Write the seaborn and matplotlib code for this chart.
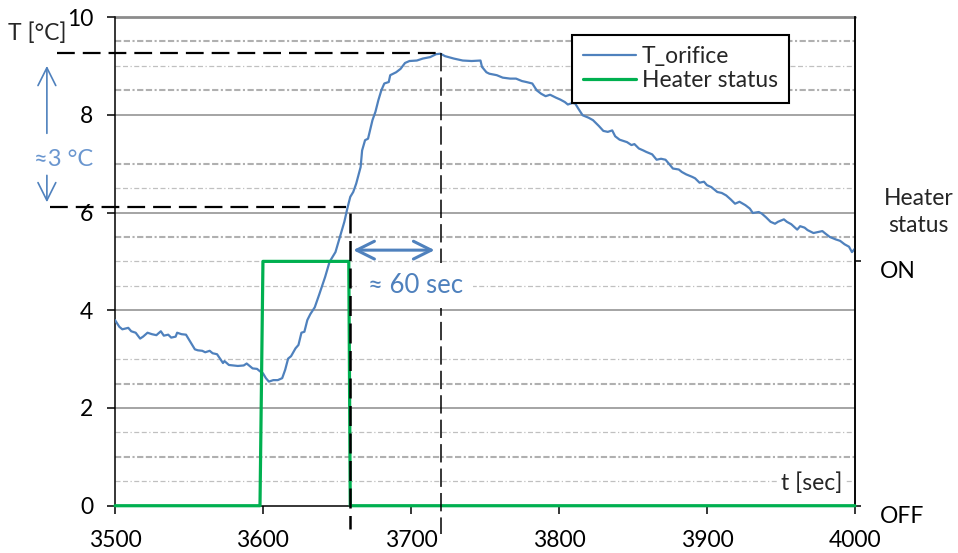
import matplotlib
matplotlib.use("Agg")
import matplotlib.pyplot as plt
import seaborn as sns
import pandas as pd

# T_orifice
time_s = [3500, 3503, 3505, 3509, 3511, 3514, 3517, 3519, 3522, 3525, 3528, 3531, 3533, 3536,
          3538, 3541, 3542, 3545, 3548, 3551, 3554, 3556, 3559, 3561, 3564, 3566, 3569, 3571,
          3573, 3574, 3577, 3580, 3583, 3587, 3589, 3591, 3593, 3596, 3598, 3600, 3602, 3604,
          3607, 3610, 3613, 3615, 3617, 3619, 3622, 3624, 3626, 3628, 3630, 3632, 3635, 3638,
          3642, 3645, 3649, 3652, 3655, 3657, 3659, 3661, 3663, 3666, 3667, 3669, 3671, 3674,
          3676, 3678, 3680, 3682, 3685, 3686, 3688, 3690, 3693, 3696, 3699, 3704, 3708, 3713,
          3717, 3720, 3723, 3729, 3735, 3741, 3747, 3748, 3751, 3753, 3758, 3762, 3767, 3771,
          3775, 3778, 3782, 3785, 3788, 3791, 3794, 3798, 3801, 3804, 3806, 3809, 3811, 3813,
          3816, 3820, 3823, 3827, 3830, 3833, 3836, 3838, 3841, 3846, 3849, 3851, 3854, 3857,
          3859, 3863, 3866, 3869, 3872, 3874, 3877, 3881, 3883, 3886, 3890, 3892, 3895, 3898,
          3900, 3903, 3907, 3910, 3913, 3916, 3919, 3922, 3926, 3929, 3931, 3935, 3937, 3940,
          3943, 3946, 3948, 3952, 3954, 3957, 3961, 3963, 3966, 3968, 3972, 3975, 3978, 3980,
          3983, 3987, 3990, 3993, 3996, 3998, 4000]
t_orifice = [3.80, 3.66, 3.61, 3.64, 3.57, 3.54, 3.42, 3.46, 3.54, 3.51, 3.49, 3.57, 3.48, 3.50,
             3.44, 3.46, 3.54, 3.51, 3.50, 3.35, 3.20, 3.18, 3.17, 3.14, 3.17, 3.12, 3.10, 3.01,
             2.92, 2.96, 2.88, 2.87, 2.86, 2.87, 2.91, 2.86, 2.81, 2.80, 2.75, 2.71, 2.61, 2.54,
             2.57, 2.57, 2.61, 2.78, 3.01, 3.06, 3.22, 3.29, 3.54, 3.56, 3.80, 3.92, 4.06, 4.32,
             4.68, 4.99, 5.19, 5.50, 5.81, 6.08, 6.32, 6.42, 6.59, 6.93, 7.27, 7.48, 7.51, 7.89,
             8.06, 8.30, 8.50, 8.64, 8.67, 8.81, 8.84, 8.87, 8.94, 9.06, 9.10, 9.11, 9.15, 9.18,
             9.24, 9.25, 9.20, 9.15, 9.11, 9.10, 9.11, 8.98, 8.87, 8.84, 8.81, 8.76, 8.74, 8.74,
             8.69, 8.67, 8.64, 8.50, 8.43, 8.38, 8.41, 8.35, 8.31, 8.26, 8.21, 8.24, 8.23, 8.13,
             7.99, 7.94, 7.89, 7.77, 7.67, 7.65, 7.68, 7.56, 7.49, 7.44, 7.38, 7.40, 7.31, 7.27,
             7.24, 7.19, 7.08, 7.10, 7.08, 7.01, 6.90, 6.88, 6.83, 6.78, 6.73, 6.70, 6.61, 6.63,
             6.56, 6.52, 6.42, 6.40, 6.35, 6.27, 6.18, 6.22, 6.15, 6.08, 5.99, 6.01, 5.98, 5.90,
             5.81, 5.77, 5.81, 5.86, 5.81, 5.76, 5.65, 5.72, 5.69, 5.64, 5.58, 5.60, 5.62, 5.57,
             5.50, 5.45, 5.42, 5.35, 5.30, 5.19, 5.26]

heater_time = [3500, 3598, 3600, 3658, 3659, 4000]
heater_status = [0, 0, 1, 1, 0, 0]

x_ticks = [3500, 3600, 3700, 3800, 3900, 4000]
y_ticks = [0, 2, 4, 6, 8, 10]
status_ticks = [0, 1]
status_labels = ["OFF", "ON"]

grid_dark = [1.0, 2.5, 5.5, 7.0, 8.5, 9.5]
grid_light = [0.5, 1.5, 3.0, 4.5, 5.0, 6.5, 9.0]

# marker values of the annotation
peak_t, peak_T = 3720, 9.27
off_t, off_T = 3659, 6.11

BLUE = "#4f81bd"
GREEN = "#00b050"
FS = 16.5

sns.set_style("ticks")
plt.rcParams["font.family"] = ["Lato", "DejaVu Sans"]
plt.rcParams["font.size"] = FS

fig = plt.figure(figsize=(9.58, 5.53), dpi=100)
ax = fig.add_axes([0.1200, 0.0855, 0.7724, 0.8837])

df = pd.DataFrame({"t": time_s, "T": t_orifice})
sns.lineplot(data=df, x="t", y="T", ax=ax, color=BLUE, lw=1.6, sort=False,
             label="T_orifice", legend=False, zorder=3)
curve = ax.get_lines()[0]

# grid, excel style
for y in y_ticks[1:-1]:
    ax.axhline(y, color="#8c8c8c", lw=1.1, zorder=1)
ax.axhline(y_ticks[-1], color="#8c8c8c", lw=2.0, zorder=1, clip_on=False)
for y in grid_dark:
    ax.axhline(y, color="#b0b0b0", lw=1.5, ls=(0, (3, 1.2, 3, 1.2, 1, 1.2)), zorder=1)
for y in grid_light:
    ax.axhline(y, color="#c0c0c0", lw=0.9, ls=(0, (4, 2, 4, 2, 1, 2)), zorder=1)

ax.set_xlim(x_ticks[0], x_ticks[-1])
ax.set_ylim(y_ticks[0], y_ticks[-1])
ax.set_xticks(x_ticks)
ax.set_yticks(y_ticks)
ax.set_xlabel("")
ax.set_ylabel("")
ax.tick_params(axis="both", direction="out", length=5.8, width=1.1, colors="black", labelsize=FS)
ax.tick_params(axis="y", pad=10)
ax.tick_params(axis="x", pad=12)
ax.spines["top"].set_visible(False)
for s in ["left", "bottom", "right"]:
    ax.spines[s].set_color("black")
    ax.spines[s].set_linewidth(1.1)

# heater status on the right axis
ax2 = ax.twinx()
sns.lineplot(x=heater_time, y=heater_status, ax=ax2, color=GREEN, lw=2.3, sort=False,
             label="Heater status", legend=False, zorder=3)
heater_line = ax2.get_lines()[0]
heater_line.set_clip_on(False)

dt = ax.transData
ax2.plot([3461, peak_t], [peak_T, peak_T], transform=dt, color="black", lw=1.6,
         dashes=(8, 3.6), clip_on=False, zorder=4)
ax2.plot([peak_t, peak_t], [peak_T, -0.58], transform=dt, color="black", lw=1.1,
         dashes=(12, 4), clip_on=False, zorder=4)
ax2.plot([3456, 3656], [off_T, off_T], transform=dt, color="black", lw=1.6,
         dashes=(8, 3.6), clip_on=False, zorder=6)
ax2.plot([off_t, off_t], [6.0, -0.47], transform=dt, color="black", lw=1.8,
         dashes=(8, 3), clip_on=False, zorder=6)

ax2.text(3703, 4.51, "\u2248 60 sec", transform=dt, ha="center", va="center", fontsize=18.5,
         color=BLUE, zorder=5, bbox=dict(boxstyle="square,pad=0.4", fc="white", ec="none"))
ax2.annotate("", xy=(3716, 5.23), xytext=(3661, 5.23), xycoords=dt, textcoords=dt,
             arrowprops=dict(arrowstyle="<->", color=BLUE, lw=2.2, mutation_scale=32,
                             shrinkA=0, shrinkB=0), zorder=7)
ax2.annotate("", xy=(3454, 9.0), xytext=(3454, 7.62), xycoords=dt, textcoords=dt,
             annotation_clip=False,
             arrowprops=dict(arrowstyle="->", color=BLUE, lw=1.2, mutation_scale=32,
                             shrinkA=0, shrinkB=0), zorder=7)
ax2.annotate("", xy=(3454, 6.21), xytext=(3454, 6.76), xycoords=dt, textcoords=dt,
             annotation_clip=False,
             arrowprops=dict(arrowstyle="->", color=BLUE, lw=1.2, mutation_scale=32,
                             shrinkA=0, shrinkB=0), zorder=7)
ax2.text(3465, 7.08, "\u22483 \u00b0C", transform=dt, ha="center", va="center", fontsize=17,
         color="#6a96cf", clip_on=False, zorder=7)
ax2.text(3971, 0.46, "t [sec]", transform=dt, ha="center", va="center", fontsize=FS,
         zorder=5, bbox=dict(boxstyle="square,pad=0.15", fc="white", ec="none"))

ax2.set_ylim(0, 2)
ax2.set_yticks(status_ticks)
ax2.set_yticklabels(status_labels, va="top")
ax2.set_ylabel("")
ax2.tick_params(axis="y", direction="out", length=4.3, width=1.1, colors="black",
                labelsize=FS, pad=14)
for s in ["top", "left", "bottom"]:
    ax2.spines[s].set_visible(False)
ax2.spines["right"].set_color("black")
ax2.spines["right"].set_linewidth(1.1)

fig.text(37 / 958, 1 - 33 / 553, "T [\u00b0C]", ha="center", va="center", fontsize=FS)
fig.text(0.959, 0.617, "Heater\nstatus", ha="center", va="center", fontsize=FS, linespacing=1.35)

leg = fig.legend([curve, heater_line], ["T_orifice", "Heater status"], loc="upper left",
                 bbox_to_anchor=(572 / 958, 1 - 35 / 553), frameon=True, fancybox=False,
                 edgecolor="black", framealpha=1, borderpad=0.5, handlelength=2.3,
                 handletextpad=0.25, labelspacing=0.12, borderaxespad=0, fontsize=FS)
leg.get_frame().set_linewidth(1.5)

fig.savefig("out.png", dpi=100)
